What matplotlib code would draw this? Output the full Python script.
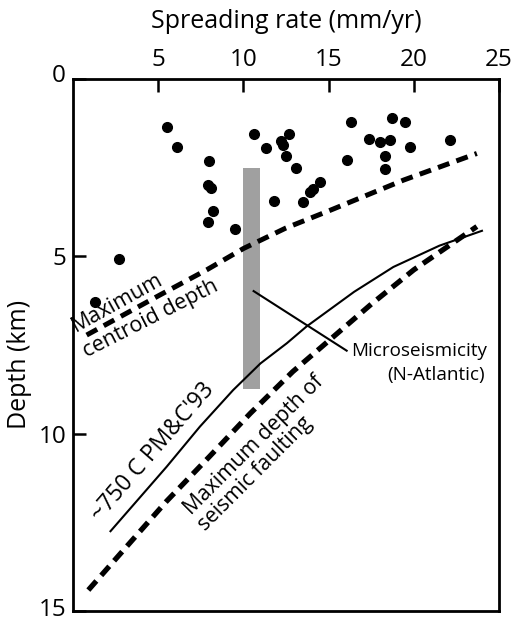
import matplotlib
matplotlib.use('Agg')
import matplotlib.pyplot as plt
from matplotlib.transforms import ScaledTranslation
import numpy as np

plt.rcParams['font.family'] = ['Open Sans', 'DejaVu Sans']

# Earthquake centroid depths vs spreading rate
rate = [5.5, 6.1, 8.0, 7.9, 8.1, 8.2, 7.9, 9.5, 2.7, 1.3,
        10.6, 11.3, 12.2, 12.3, 12.7, 12.5, 13.1, 11.8, 13.5, 13.9,
        14.1, 14.5, 16.3, 16.1, 17.4, 18.0, 18.6, 18.7, 19.5, 19.8,
        18.3, 18.3, 22.1]
depth = [1.36, 1.93, 2.32, 2.99, 3.08, 3.71, 4.04, 4.23, 5.07, 6.28,
         1.54, 1.95, 1.76, 1.86, 1.54, 2.17, 2.50, 3.43, 3.48, 3.19,
         3.10, 2.90, 1.20, 2.28, 1.68, 1.78, 1.72, 1.10, 1.20, 1.91,
         2.17, 2.55, 1.73]

# Maximum centroid depth (dashed)
centroid_x = [0.8, 5.1, 7.85, 10.0, 12.5, 15.0, 19.4, 23.7]
centroid_y = [7.22, 6.09, 5.38, 4.78, 4.20, 3.72, 2.85, 2.10]

# ~750 C isotherm (Phipps Morgan & Chen 1993)
iso_x = [2.2, 5.5, 7.45, 9.4, 11.0, 12.55, 13.7, 14.5, 16.5, 18.8, 21.5, 24.0]
iso_y = [12.75, 10.93, 9.80, 8.77, 8.02, 7.45, 6.98, 6.70, 6.00, 5.30, 4.70, 4.28]

# Maximum depth of seismic faulting (dashed)
fault_x = [0.9, 3.3, 5.5, 8.0, 10.4, 12.9, 14.5, 17.5, 20.0, 22.0, 23.7]
fault_y = [14.41, 13.1, 11.9, 10.65, 9.43, 8.25, 7.59, 6.35, 5.38, 4.72, 4.16]

# Microseismicity range (N-Atlantic)
micro_x = [10.0, 10.96]
micro_depth = [2.5, 8.74]

fig = plt.figure(figsize=(5.14, 6.24), dpi=100)
ax = fig.add_axes([73 / 514, 1 - 611 / 624, 426 / 514, 532 / 624])

# gray bar for microseismicity
ax.bar((micro_x[0] + micro_x[1]) / 2, micro_depth[1] - micro_depth[0],
       width=micro_x[1] - micro_x[0], bottom=micro_depth[0],
       color='#a0a0a0', zorder=1)

ax.plot(centroid_x, centroid_y, color='black', lw=3.6,
        linestyle=(0, (2.4, 1.5)), zorder=3)
ax.plot(fault_x, fault_y, color='black', lw=3.8,
        linestyle=(0, (2.3, 1.4)), zorder=3)
ax.plot(iso_x, iso_y, color='black', lw=1.5, zorder=3)

ax.plot(rate, depth, 'o', color='black', markersize=7, zorder=4)

# leader line to label
ax.plot([10.6, 16.06], [5.98, 7.66], color='black', lw=1.5, zorder=3)
ax.text(16.3, 7.66, 'Microseismicity', fontsize=13.6, ha='left', va='center')
ax.text(24.2, 8.35, '(N-Atlantic)', fontsize=13.6, ha='right', va='center')

# curve labels, one line at a time
ax.text(2.60, 6.30, 'Maximum', fontsize=15.5, rotation=29,
        rotation_mode='anchor', ha='center', va='center')
ax.text(4.56, 6.77, 'centroid depth', fontsize=15.5, rotation=27,
        rotation_mode='anchor', ha='center', va='center')
ax.text(4.67, 10.51, "~750 C PM&C'93", fontsize=16.5, rotation=49,
        rotation_mode='anchor', ha='center', va='center')
ax.text(10.60, 10.33, 'Maximum depth of', fontsize=15.2, rotation=45,
        rotation_mode='anchor', ha='center', va='center')
ax.text(10.72, 11.13, 'seismic faulting', fontsize=15.2, rotation=45,
        rotation_mode='anchor', ha='center', va='center')

ax.set_xlim(0, 25)
ax.set_ylim(15, 0)
ax.xaxis.set_ticks_position('top')
ax.xaxis.set_label_position('top')
ax.set_xticks([5, 10, 15, 20, 25])
ax.set_yticks([0, 5, 10, 15])
ax.tick_params(axis='both', direction='in', length=9, width=1.8,
               labelsize=17.5, pad=5)
ax.tick_params(axis='x', right=False, bottom=False)
for s in ax.spines.values():
    s.set_linewidth(2)

# nudge the end labels up a little, as in the original
ylabels = ax.get_yticklabels()
ylabels[0].set_transform(ylabels[0].get_transform() +
                         ScaledTranslation(0, 6 / 100, fig.dpi_scale_trans))
ylabels[-1].set_transform(ylabels[-1].get_transform() +
                          ScaledTranslation(0, 4 / 100, fig.dpi_scale_trans))

fig.text(286 / 514, 1 - 22 / 624, 'Spreading rate (mm/yr)', fontsize=18,
         ha='center', va='center')
fig.text(20 / 514, 1 - 364 / 624, 'Depth (km)', fontsize=18, rotation=90,
         ha='center', va='center')

fig.savefig('out.png', dpi=100)
